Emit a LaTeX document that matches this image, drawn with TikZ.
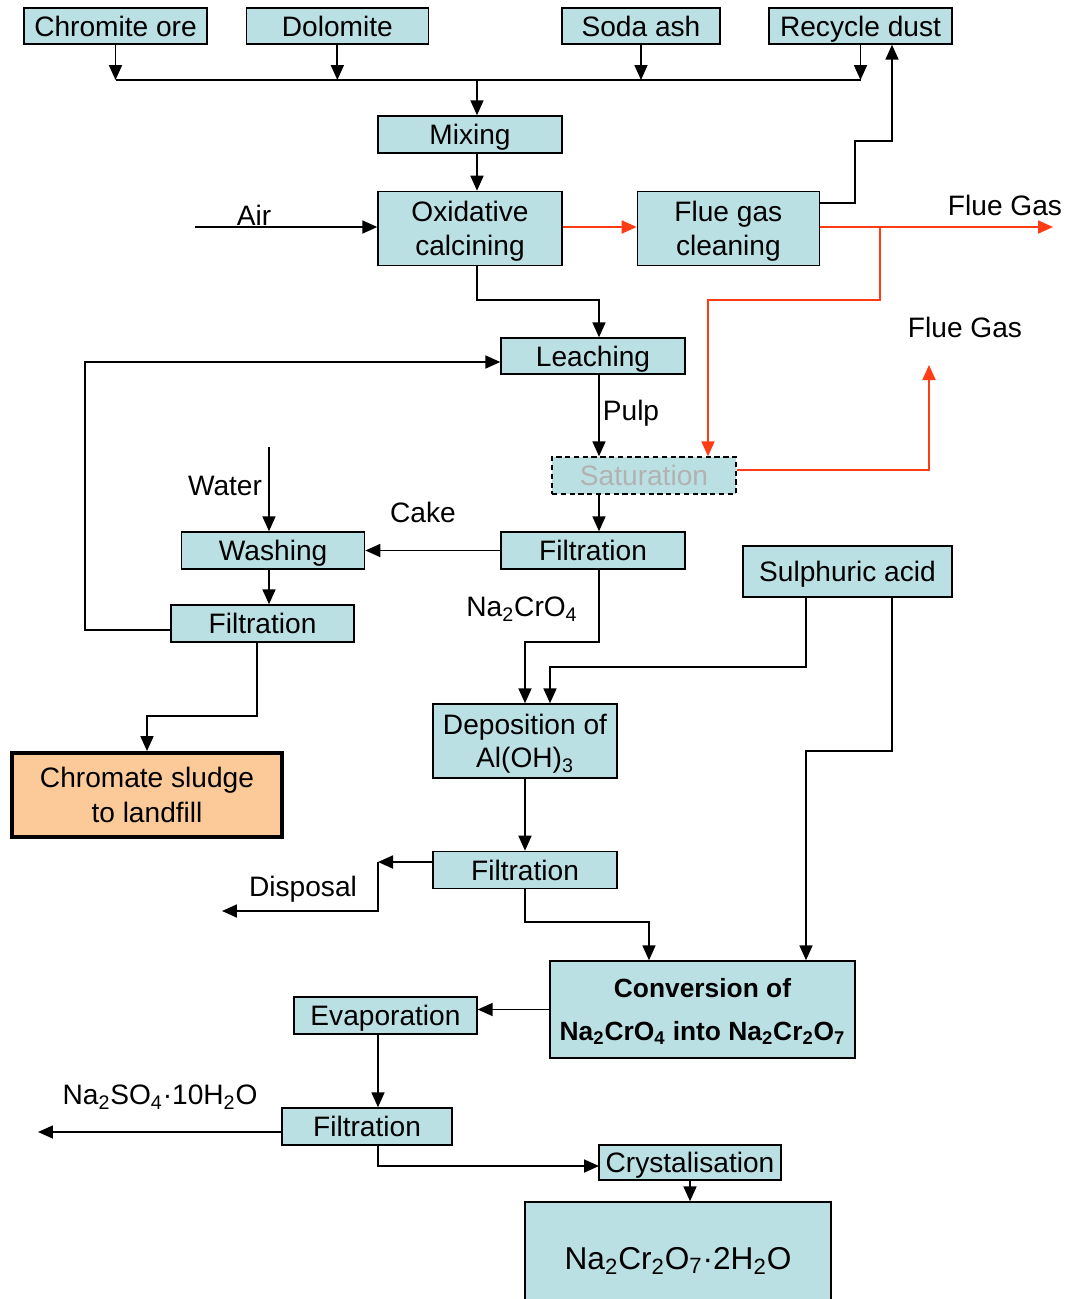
\documentclass[tikz,border=0pt]{standalone}
\usepackage{fontspec}
\setmainfont{Liberation Sans}
\usetikzlibrary{arrows.meta,positioning}

\definecolor{boxfill}{RGB}{187,224,227}
\definecolor{sludgefill}{RGB}{252,201,153}
\definecolor{gasred}{RGB}{255,60,20}
\definecolor{greytext}{RGB}{178,178,178}

\begin{document}
\begin{tikzpicture}[x=0.02cm,y=-0.02cm,
  font=\fontsize{16}{19}\selectfont,
  box/.style={draw,fill=boxfill,line width=0.8pt,inner sep=2pt,align=center,text depth=0pt},
  flow/.style={line width=1pt,-{Triangle[length=0.3cm,width=0.26cm]}},
  gasflow/.style={flow,line width=1.1pt,color=gasred},
  lbl/.style={inner sep=0pt}]
  \useasboundingbox (0,0) rectangle (1073,1299);

  % raw materials
  \node[box,minimum width=3.66cm,minimum height=0.72cm] (chrome) at (115.5,26) {Chromite ore};
  \node[box,minimum width=3.64cm,minimum height=0.72cm] (dolo) [right=0.76cm of chrome] {Dolomite};
  \node[box,minimum width=3.16cm,minimum height=0.72cm] (soda) at (641,26) {Soda ash};
  \node[box,minimum width=3.66cm,minimum height=0.72cm] (recyc) at (860.5,26) {Recycle dust};

  % roasting and leaching
  \node[box,minimum width=3.68cm,minimum height=0.74cm] (mix) at (470,134.5) {Mixing};
  \node[box,minimum width=3.68cm,minimum height=1.48cm] (oxcal) [below=0.74cm of mix] {Oxidative\\calcining};
  \node[box,minimum width=3.64cm,minimum height=1.48cm] (fgc) [right=1.48cm of oxcal] {Flue gas\\cleaning};
  \node[box,minimum width=3.68cm,minimum height=0.72cm] (leach) at (593,356) {Leaching};
  \node[box,dashed,dash pattern=on 3pt off 2pt,text=greytext,
        minimum width=3.68cm,minimum height=0.74cm] (satur) at (644,475.5) {Saturation};
  \node[box,minimum width=3.68cm,minimum height=0.74cm] (filtA) at (593,550.5) {Filtration};
  \node[box,minimum width=3.66cm,minimum height=0.74cm] (wash) [left=2.7cm of filtA] {Washing};
  \node[box,minimum width=3.66cm,minimum height=0.74cm] (filtB) at (262.5,623.5) {Filtration};
  \node[box,fill=sludgefill,line width=2.2pt,minimum width=5.4cm,minimum height=1.68cm,
        font=\fontsize{16}{20}\selectfont] (sludge) at (147,795) {Chromate sludge\\to landfill};

  % chromate liquor
  \node[box,minimum width=4.18cm,minimum height=1.02cm] (sulph) at (847.5,571.5) {Sulphuric acid};
  \node[box,minimum width=3.68cm,minimum height=1.48cm] (depos) at (525,741) {Deposition of\\Al(OH)\textsubscript{3}};
  \node[box,minimum width=3.68cm,minimum height=0.74cm] (filtC) [below=1.44cm of depos] {Filtration};
  \node[box,minimum width=6.1cm,minimum height=1.94cm,
        font=\fontsize{15}{24}\selectfont\bfseries] (conv) at (702.5,1009.5)
        {Conversion of\\Na\textsubscript{2}CrO\textsubscript{4} into Na\textsubscript{2}Cr\textsubscript{2}O\textsubscript{7}};
  \node[box,minimum width=3.66cm,minimum height=0.74cm] (evap) at (385.5,1015.5) {Evaporation};
  \node[box,minimum width=3.4cm,minimum height=0.74cm] (filtD) at (367,1126.5) {Filtration};
  \node[box,minimum width=3.64cm,minimum height=0.7cm] (cryst) at (690,1162.5) {Crystalisation};
  \node[box,minimum width=6.12cm,minimum height=2.24cm,font=\fontsize{18}{22}\selectfont]
        (prod) at (678,1258)
        {Na\textsubscript{2}Cr\textsubscript{2}O\textsubscript{7}·2H\textsubscript{2}O};

  % stream labels
  \node[lbl] (airlbl) at (254,215) {Air};
  \node[lbl] (gaslblA) at (1005,205) {Flue Gas};
  \node[lbl] (gaslblB) at (965,327) {Flue Gas};
  \node[lbl] (pulplbl) at (631,413) {Pulp};
  \node[lbl] (waterlbl) at (225,486) {Water};
  \node[lbl] (cakelbl) at (423,512) {Cake};
  \node[lbl] (chromatelbl) at (522,609) {Na\textsubscript{2}CrO\textsubscript{4}};
  \node[lbl] (displbl) at (303,889) {Disposal};
  \node[lbl] (saltlbl) at (160,1097) {Na\textsubscript{2}SO\textsubscript{4}·10H\textsubscript{2}O};

  % bends and free ends
  \coordinate (bus) at (477,80);
  \coordinate (airin) at (195,227);
  \coordinate (retA) at (855,203);
  \coordinate (retB) at (892,141);
  \coordinate (gasout) at (1053,227);
  \coordinate (split) at (880,227);
  \coordinate (redturn) at (708,300);
  \coordinate (satout) at (736,470);
  \coordinate (gasup) at (929,365);
  \coordinate (kink) at (599,300);
  \coordinate (water) at (269,447);
  \coordinate (loopB) at (85,630);
  \coordinate (loop) at (85,362);
  \coordinate (sl) at (257,716);
  \coordinate (na) at (525,642);
  \coordinate (acidA) at (806,667);
  \coordinate (acidB) at (550,667);
  \coordinate (acidC) at (892,751);
  \coordinate (acidD) at (806,751);
  \coordinate (dispA) at (378,862);
  \coordinate (dispB) at (222,911);
  \coordinate (cv) at (649,922);
  \coordinate (evx) at (378,1070);
  \coordinate (cryin) at (599,1166);
  \coordinate (salt) at (38,1132);

  % black streams
  \draw[line width=1pt] (chrome.south |- bus) -- (recyc.south |- bus);
  \path[flow]
  (chrome.south) edge (chrome.south |- bus)
  (dolo.south) edge (dolo.south |- bus)
  (soda.south) edge (soda.south |- bus)
  (recyc.south) edge (recyc.south |- bus)
  (bus) edge (mix.north -| bus)
  (mix.south -| bus) edge (oxcal.north -| bus)
  (airin) edge (oxcal.west |- airin)
  (leach.south -| kink) edge (satur.north -| kink)
  (satur.south -| kink) edge (filtA.north -| kink)
  (filtA.west) edge (wash.east)
  (water) edge (wash.north -| water)
  (wash.south -| water) edge (filtB.north -| water)
  (depos.south -| na) edge (filtC.north -| na)
  (filtC.west |- dispA) edge (dispA)
  (conv.west) edge (evap.east |- conv.west)
  (evap.south -| evx) edge (filtD.north -| evx)
  (filtD.west |- salt) edge (salt)
  (cryst.south) edge (prod.north -| cryst.south);

  \draw[flow] (fgc.east |- retA) -- (retA) |- (retB) -- (recyc.south -| retB);
  \draw[flow] (oxcal.south -| bus) |- (kink) -- (leach.north -| kink);
  \draw[flow] (filtB.west |- loopB) -- (loopB) -- (loop) -- (leach.west |- loop);
  \draw[flow] (filtB.south -| sl) -- (sl) -| (sludge.north);
  \draw[flow] (filtA.south -| kink) |- (na) -- (depos.north -| na);
  \draw[flow] (sulph.south -| acidA) -- (acidA) -- (acidB) -- (depos.north -| acidB);
  \draw[flow] (sulph.south -| acidC) -- (acidC) -- (acidD) -- (conv.north -| acidD);
  \draw[flow] (dispA) |- (dispB);
  \draw[flow] (filtC.south -| na) |- (cv) -- (conv.north -| cv);
  \draw[flow] (filtD.south -| evx) |- (cryin);

  % flue gas streams
  \draw[gasflow] (oxcal.east |- airin) -- (fgc.west |- airin);
  \draw[gasflow] (fgc.east |- gasout) -- (gasout);
  \draw[gasflow] (split) |- (redturn) -- (satur.north -| redturn);
  \draw[gasflow] (satur.east |- satout) -| (gasup);
\end{tikzpicture}
\end{document}
